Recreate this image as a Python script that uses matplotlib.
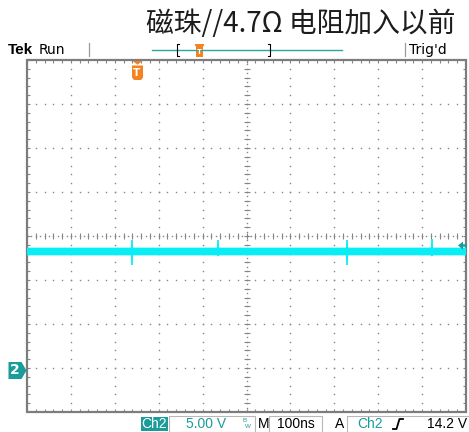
import numpy as np
import matplotlib
matplotlib.use("Agg")
import matplotlib.pyplot as plt
from matplotlib import transforms as mtransforms
from matplotlib.path import Path
from matplotlib.patches import Rectangle

# ---- acquisition settings ----
volts_per_div = 5.0
ns_per_div = 100.0
n_hdiv, n_vdiv = 10, 8
ch2_position_div = -3.05      # ch2 ground level relative to screen centre
trig_time_ns = 250.0
trig_level_v = 14.2

# ---- ch2 waveform: flat level with switching spikes ----
baseline_v = 13.5
band_halfwidth_v = 0.36
spike_time_ns = [239, 435, 729, 922]
spike_high_v = [14.8, 14.8, 14.8, 14.9]
spike_low_v = [11.9, 13.0, 11.9, 13.0]

# ---- readouts ----
title = "磁珠//4.7Ω 电阻加入以前"
status_left = "Run"
status_right = "Trig'd"
ch_label = "Ch2"
scale_label = "5.00 V"
time_label = "100ns"
trig_source = "Ch2"
trig_label = "14.2 V"

W, H = 469, 432
PT = 0.72  # points per pixel at 100 dpi

grid_c = "#858585"
cyan = "#08eef4"
teal = "#1a9c9a"
orange = "#f5821f"

fig = plt.figure(figsize=(W / 100, H / 100), dpi=100)

# overlay in pixel units for header/footer readouts
ov = fig.add_axes([0, 0, 1, 1])
ov.set_xlim(0, W)
ov.set_ylim(H, 0)
ov.set_axis_off()

# graticule axes
ax = fig.add_axes([27 / W, 1 - 412 / H, 439 / W, 352 / H])
ax.set_axis_off()


def div_to_v(d):
    return (np.asarray(d, dtype=float) - ch2_position_div) * volts_per_div


t_max = n_hdiv * ns_per_div
ax.set_xlim(0, t_max)
ax.set_ylim(div_to_v(-n_vdiv / 2), div_to_v(n_vdiv / 2))

minor_x = np.arange(0, n_hdiv + 1e-9, 0.2) * ns_per_div
minor_y = div_to_v(np.arange(-n_vdiv / 2, n_vdiv / 2 + 1e-9, 0.2))
fine_x = np.arange(0, n_hdiv + 1e-9, 0.1) * ns_per_div
fine_y = div_to_v(np.arange(-n_vdiv / 2, n_vdiv / 2 + 1e-9, 0.1))

dot = dict(ls="none", marker="s", ms=1.0, mew=0, color=grid_c)
for k in range(1, n_hdiv):
    if k == n_hdiv // 2:
        continue
    ax.plot(np.full(minor_y.size, k * ns_per_div), minor_y, **dot)
for k in range(-n_vdiv // 2 + 1, n_vdiv // 2):
    if k == 0:
        continue
    ax.plot(minor_x, np.full(minor_x.size, div_to_v(k)), **dot)

# centre cross with fine dots and minor ticks
xc = n_hdiv / 2 * ns_per_div
yc = float(div_to_v(0))
ax.plot(np.full(fine_y.size, xc), fine_y, **dot)
ax.plot(fine_x, np.full(fine_x.size, yc), **dot)
ax.plot(np.full(minor_y.size, xc), minor_y, ls="none", marker="_", ms=4, mew=0.8, color=grid_c)
ax.plot(minor_x, np.full(minor_x.size, yc), ls="none", marker="|", ms=4, mew=0.8, color=grid_c)

# border ticks
for yb in ax.get_ylim():
    ax.plot(minor_x, np.full(minor_x.size, yb), ls="none", marker="|", ms=5, mew=0.8, color=grid_c)
for xb in ax.get_xlim():
    ax.plot(np.full(minor_y.size, xb), minor_y, ls="none", marker="_", ms=5, mew=0.8, color=grid_c)
ax.add_patch(Rectangle((0, 0), 1, 1, transform=ax.transAxes, fill=False,
                       ec="#7d7d7d", lw=1.6, clip_on=False, zorder=3))

# ---- ch2 trace ----
ax.fill_between([0, t_max], baseline_v - band_halfwidth_v - 0.12, baseline_v + band_halfwidth_v + 0.12,
                color=cyan, alpha=0.35, lw=0, zorder=4)
ax.fill_between([0, t_max], baseline_v - band_halfwidth_v, baseline_v + band_halfwidth_v,
                color=cyan, lw=0, zorder=4)
ax.vlines(spike_time_ns, spike_low_v, spike_high_v, color=cyan, lw=1.3, zorder=4)
for t, hi, lo in zip(spike_time_ns, spike_high_v, spike_low_v):
    # slightly widened root where the spike leaves the band
    ax.fill([t - 3, t, t + 3], [baseline_v + band_halfwidth_v, baseline_v + 0.45 * (hi - baseline_v) + band_halfwidth_v,
                                baseline_v + band_halfwidth_v], color=cyan, lw=0, zorder=4)
    ax.fill([t - 3, t, t + 3], [baseline_v - band_halfwidth_v, baseline_v - 0.45 * (baseline_v - lo) - band_halfwidth_v,
                                baseline_v - band_halfwidth_v], color=cyan, lw=0, zorder=4)

# ---- channel ground marker ----
y_blend = mtransforms.blended_transform_factory(ax.transAxes, ax.transData)
gnd_path = Path([(-9, -8.5), (4, -8.5), (9, 0), (4, 8.5), (-9, 8.5), (-9, -8.5)], closed=True)
gx = (17 - 27) / 439
ax.plot([gx], [0.0], transform=y_blend, marker=gnd_path, ms=18 * PT, color=teal,
        mew=0, clip_on=False, zorder=6)
ax.text((14.5 - 27) / 439, 0.0, "2", transform=y_blend, color="white", fontsize=10,
        fontweight="bold", ha="center", va="center", zorder=7)

# ---- trigger level marker ----
lvl_path = Path.make_compound_path(
    Path([(-4.5, 0), (0.5, 4), (0.5, -4), (-4.5, 0)], closed=True),
    Path([(0.5, -1.2), (4.5, -1.2), (4.5, 1.2), (0.5, 1.2), (0.5, -1.2)], closed=True),
)
ax.plot([(461.5 - 27) / 439], [trig_level_v], transform=y_blend, marker=lvl_path,
        ms=9 * PT, color=teal, mew=0, clip_on=False, zorder=6)

# ---- trigger position marker ----
x_blend = mtransforms.blended_transform_factory(ax.transData, ax.transAxes)
t_path = Path.make_compound_path(
    Path([(-5, 9.5), (5, 9.5), (0, 5.8), (-5, 9.5)], closed=True),
    Path([(-5.5, 5), (5.5, 5), (5.5, -7), (3.5, -9.5), (-3.5, -9.5), (-5.5, -7), (-5.5, 5)], closed=True),
)
ax.plot([trig_time_ns], [1 - 9.5 / 352], transform=x_blend, marker=t_path, ms=19 * PT,
        color=orange, mew=0, clip_on=False, zorder=6)
ax.text(trig_time_ns, 1 - 12.5 / 352, "T", transform=x_blend, color="white", fontsize=7.5,
        fontweight="bold", ha="center", va="center", zorder=7)

# ---- header ----
ov.text(455, 24, title, ha="right", va="center", fontsize=20, color="#1c1c1c",
        family=["Noto Sans CJK SC", "DejaVu Sans"])
ov.text(8, 50, "Tek", ha="left", va="center", fontsize=11, fontweight="bold",
        family="Liberation Sans", color="black")
ov.text(39, 50, status_left, ha="left", va="center", fontsize=10, color="black")
ov.text(409, 50, status_right, ha="left", va="center", fontsize=10, color="black")
for xs in (89, 405):
    ov.plot([xs, xs], [43, 56], color="#9a9a9a", lw=0.9)
ov.plot([152, 342], [50, 50], color="#2aa5a3", lw=1.0)
ov.plot([179, 177, 177, 179], [44, 44, 56, 56], color="black", lw=0.8)
ov.plot([268, 270, 270, 268], [44, 44, 56, 56], color="black", lw=0.8)
ov.add_patch(Rectangle((196, 46), 7, 11, fc=orange, ec="none"))
ov.add_patch(Rectangle((195, 43.5), 9, 2.5, fc=orange, ec="none"))
ov.text(199.5, 52, "T", color="white", fontsize=5, fontweight="bold", ha="center", va="center")

# ---- footer ----
fsz = 10
ffam = "Liberation Sans"
box_ec = "#b8b8b8"
ov.add_patch(Rectangle((141, 417), 27, 14, fc=teal, ec="none"))
ov.text(154.5, 424, ch_label, color="white", ha="center", va="center", fontsize=fsz, family=ffam)
ov.add_patch(Rectangle((169, 416), 86, 16, fc="none", ec=box_ec, lw=0.8))
ov.text(206, 424, scale_label, color=teal, ha="center", va="center", fontsize=fsz, family=ffam)
ov.text(245, 421, "B", color=teal, ha="center", va="center", fontsize=4.5, family=ffam)
ov.text(248, 426, "W", color=teal, ha="center", va="center", fontsize=4.5, family=ffam)
ov.text(263.5, 424, "M", color="black", ha="center", va="center", fontsize=fsz, family=ffam)
ov.add_patch(Rectangle((269, 416), 53, 16, fc="none", ec=box_ec, lw=0.8))
ov.text(296, 424, time_label, color="black", ha="center", va="center", fontsize=fsz, family=ffam)
ov.text(340, 424, "A", color="black", ha="center", va="center", fontsize=fsz, family=ffam)
ov.add_patch(Rectangle((347, 416), 125, 16, fc="none", ec=box_ec, lw=0.8))
ov.text(370.5, 424, trig_source, color=teal, ha="center", va="center", fontsize=fsz, family=ffam)
ov.plot([393, 396.5, 399.5, 403], [429, 429, 419, 419], color="black", lw=1.3)
ov.text(467, 424, trig_label, color="black", ha="right", va="center", fontsize=fsz, family=ffam)

fig.savefig("out.png", dpi=100)
